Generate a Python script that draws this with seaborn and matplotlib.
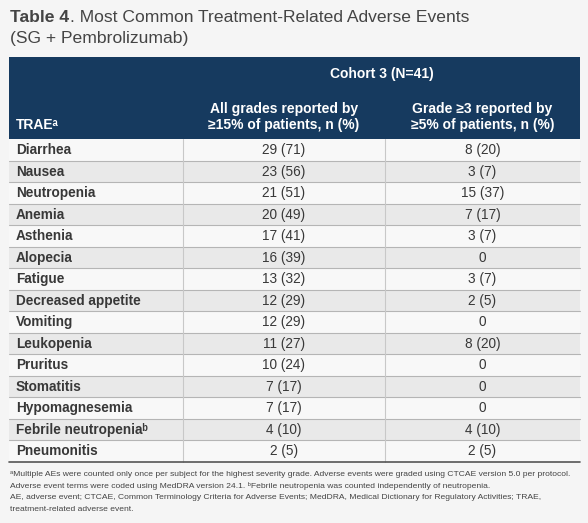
import numpy as np
import pandas as pd
import seaborn as sns
import matplotlib.pyplot as plt
from matplotlib.patches import Rectangle

sns.set_theme(style="white")
plt.rcParams['font.family'] = ['Liberation Sans', 'DejaVu Sans']

# table data
events = ['Diarrhea', 'Nausea', 'Neutropenia', 'Anemia', 'Asthenia', 'Alopecia',
          'Fatigue', 'Decreased appetite', 'Vomiting', 'Leukopenia', 'Pruritus',
          'Stomatitis', 'Hypomagnesemia', 'Febrile neutropenia\u1d47', 'Pneumonitis']
all_grades = ['29 (71)', '23 (56)', '21 (51)', '20 (49)', '17 (41)', '16 (39)',
              '13 (32)', '12 (29)', '12 (29)', '11 (27)', '10 (24)', '7 (17)',
              '7 (17)', '4 (10)', '2 (5)']
grade3 = ['8 (20)', '3 (7)', '15 (37)', '7 (17)', '3 (7)', '0', '3 (7)', '2 (5)',
          '0', '8 (20)', '0', '0', '0', '4 (10)', '2 (5)']
col_headers = ['TRAE\u1d43', 'All grades reported by\n\u226515% of patients, n (%)',
               'Grade \u22653 reported by\n\u22655% of patients, n (%)']
group_header = 'Cohort 3 (N=41)'

df = pd.DataFrame({'event': events, 'all': all_grades, 'g3': grade3})

W, H = 588, 523
fig = plt.figure(figsize=(W / 100, H / 100), dpi=100, facecolor='#f5f5f5')
ax = fig.add_axes([0, 0, 1, 1])
ax.set_xlim(0, W)
ax.set_ylim(H, 0)
ax.axis('off')

navy = '#163a5f'
left, right = 9, 580
div1, div2 = 183, 385
head_top, head_bot = 57, 139
row_h = 21.5

# title: bold "Table 4" followed by the regular part
renderer = fig.canvas.get_renderer()
t1 = ax.text(left + 1, 18, 'Table 4', fontsize=12.6, fontweight='bold', color='#444444', va='center')
bb = t1.get_window_extent(renderer)
ax.text(bb.x1 + 0.5, 18, '. Most Common Treatment-Related Adverse Events',
        fontsize=12.6, color='#444444', va='center')
ax.text(left + 1, 39, '(SG + Pembrolizumab)', fontsize=12.6, color='#444444', va='center')

# header block
ax.add_patch(Rectangle((left, head_top), right - left, head_bot - head_top, color=navy, lw=0))
ax.text((div1 + right) / 2, 74, group_header, color='white', fontsize=10,
        fontweight='bold', ha='center', va='center')
ax.text(left + 7, 125, col_headers[0], color='white', fontsize=10,
        fontweight='bold', ha='left', va='center')
ax.text((div1 + div2) / 2, 117, col_headers[1], color='white', fontsize=10,
        fontweight='bold', ha='center', va='center', linespacing=1.12)
ax.text((div2 + right) / 2, 117, col_headers[2], color='white', fontsize=10,
        fontweight='bold', ha='center', va='center', linespacing=1.12)

# body rows
for i, row in df.iterrows():
    top = head_bot + i * row_h
    fill = '#f8f8f8' if i % 2 == 0 else '#e9e9e9'
    ax.add_patch(Rectangle((left, top), right - left, row_h, color=fill, lw=0))
    yc = top + row_h / 2 + 0.5
    ax.text(left + 7, yc, row['event'], fontsize=9.8, fontweight='bold',
            color='#383838', va='center')
    ax.text((div1 + div2) / 2, yc, row['all'], fontsize=9.8, color='#383838',
            ha='center', va='center')
    ax.text((div2 + right) / 2, yc, row['g3'], fontsize=9.8, color='#383838',
            ha='center', va='center')
    if i < len(df) - 1:
        ax.plot([left, right], [top + row_h] * 2, color='#b5b5b5', lw=0.8)

body_bot = head_bot + len(df) * row_h
for x in (div1, div2):
    ax.plot([x, x], [head_bot, body_bot], color='#c8c8c8', lw=0.8)
ax.plot([left, right], [body_bot, body_bot], color='#555555', lw=1.2)

# footnotes
notes = ['\u1d43Multiple AEs were counted only once per subject for the highest severity grade. '
         'Adverse events were graded using CTCAE version 5.0 per protocol.',
         'Adverse event terms were coded using MedDRA version 24.1. \u1d47Febrile neutropenia '
         'was counted independently of neutropenia.',
         'AE, adverse event; CTCAE, Common Terminology Criteria for Adverse Events; MedDRA, '
         'Medical Dictionary for Regulatory Activities; TRAE,',
         'treatment-related adverse event.']
for k, note in enumerate(notes):
    ax.text(left + 1, 475 + k * 11.4, note, fontsize=6.1, color='#444444', va='center')

fig.savefig('out.png', dpi=100, facecolor=fig.get_facecolor())
